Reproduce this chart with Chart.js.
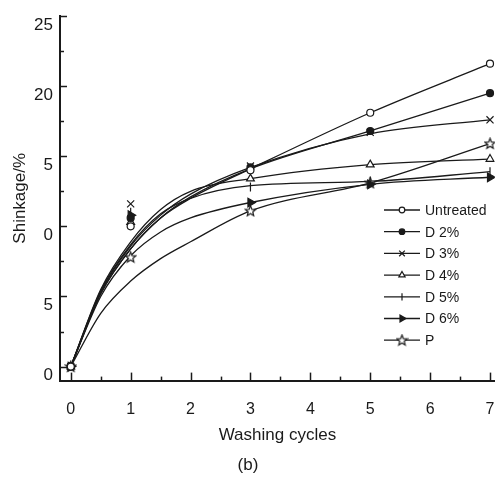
<!DOCTYPE html>
<html>
<head>
<meta charset="utf-8">
<script src="https://cdn.jsdelivr.net/npm/chart.js@4.4.0/dist/chart.umd.min.js"></script>
<style>
  html, body { margin: 0; padding: 0; background: #fff; }
</style>
</head>
<body>
<canvas id="shrinkChart" width="502" height="478"></canvas>
<script>
// measured points
const seriesNames = ['Untreated', 'D 2%', 'D 3%', 'D 4%', 'D 5%', 'D 6%', 'P'];
const markerX = [0, 1, 3, 5, 7];
const untreatedPts = [0, 10.0, 14.0, 18.1, 21.6];
const d2Pts = [0, 10.6, 14.2, 16.8, 19.5];
const d3Pts = [0, 11.6, 14.3, 16.7, 17.6];
const d4Pts = [0, 10.3, 13.4, 14.4, 14.8];
const d5Pts = [0, 11.0, 12.8, 13.2, 13.9];
const d6Pts = [0, 10.8, 11.7, 13.0, 13.5];
const pPts = [0, 7.8, 11.1, 13.1, 15.9];

// fitted curves
const curveX = [0, 0.5, 1, 1.5, 2, 3, 5, 7];
const untreatedCurve = [0, 5.2, 8.4, 10.6, 12.0, 14.1, 18.1, 21.6];
const d2Curve = [0, 5.2, 8.4, 10.6, 12.1, 14.1, 16.8, 19.5];
const d3Curve = [0, 5.3, 8.6, 10.8, 12.3, 14.2, 16.6, 17.6];
const d4Curve = [0, 5.5, 8.9, 11.2, 12.5, 13.4, 14.4, 14.8];
const d5Curve = [0, 5.4, 8.7, 10.9, 12.0, 12.9, 13.2, 13.9];
const d6Curve = [0, 5.0, 7.9, 9.6, 10.6, 11.7, 13.0, 13.5];
const pCurve = [0, 3.8, 6.1, 7.7, 8.9, 11.1, 13.1, 15.9];

const xTicks = [0, 1, 2, 3, 4, 5, 6, 7];
const yTicks = [0, 5, 10, 15, 20, 25];
const yTickLabels = ['0', '5', '0', '5', '20', '25'];

const INK = '#1a1a1a';
const FONT = "'Liberation Sans', Arial, Helvetica, sans-serif";

function makeStar() {
  const c = document.createElement('canvas');
  c.width = 13; c.height = 13;
  const g = c.getContext('2d');
  g.beginPath();
  for (let i = 0; i < 10; i++) {
    const r = i % 2 === 0 ? 5.5 : 2.4;
    const a = -Math.PI / 2 + i * Math.PI / 5;
    const px = 6.5 + r * Math.cos(a), py = 6.8 + r * Math.sin(a);
    if (i === 0) g.moveTo(px, py); else g.lineTo(px, py);
  }
  g.closePath();
  g.fillStyle = '#fff';
  g.fill();
  g.lineWidth = 1.2;
  g.strokeStyle = INK;
  g.stroke();
  return c;
}

const markerStyles = [
  { pointStyle: 'circle', radius: 3.5, bg: '#fff', rotation: 0 },
  { pointStyle: 'circle', radius: 3.5, bg: INK, rotation: 0 },
  { pointStyle: 'crossRot', radius: 5, bg: INK, rotation: 0 },
  { pointStyle: 'triangle', radius: 4.5, bg: '#fff', rotation: 0 },
  { pointStyle: 'line', radius: 4.5, bg: INK, rotation: 90 },
  { pointStyle: 'triangle', radius: 5, bg: INK, rotation: 90 },
  { pointStyle: makeStar(), radius: 6, bg: '#fff', rotation: 0 }
];

const allPts = [untreatedPts, d2Pts, d3Pts, d4Pts, d5Pts, d6Pts, pPts];
const allCurves = [untreatedCurve, d2Curve, d3Curve, d4Curve, d5Curve, d6Curve, pCurve];

const datasets = [];
seriesNames.forEach((name, i) => {
  const m = markerStyles[i];
  datasets.push({
    label: name,
    isMarker: true,
    data: markerX.map((x, k) => ({ x: x, y: allPts[i][k] })),
    showLine: false,
    pointStyle: m.pointStyle,
    pointRadius: m.radius,
    pointRotation: m.rotation,
    pointBackgroundColor: m.bg,
    pointBorderColor: INK,
    pointBorderWidth: 1.2,
    order: 0
  });
  datasets.push({
    label: name + ' fit',
    data: curveX.map((x, k) => ({ x: x, y: allCurves[i][k] })),
    borderColor: INK,
    borderWidth: 1.3,
    pointRadius: 0,
    cubicInterpolationMode: 'monotone',
    fill: false,
    order: 1
  });
});

// inward ticks, major and minor
const inwardTicks = {
  id: 'inwardTicks',
  afterDraw(chart) {
    const ctx = chart.ctx;
    const xs = chart.scales.x, ys = chart.scales.y;
    const axisY = chart.chartArea.bottom, axisX = chart.chartArea.left;
    ctx.save();
    ctx.strokeStyle = INK;
    ctx.lineWidth = 1.5;
    for (let v = 0; v <= 7; v += 0.5) {
      const px = Math.round(xs.getPixelForValue(v)) + 0.5;
      const len = Number.isInteger(v) ? 8 : 4;
      ctx.beginPath(); ctx.moveTo(px, axisY); ctx.lineTo(px, axisY - len); ctx.stroke();
    }
    for (let v = 0; v <= 25; v += 2.5) {
      const py = Math.round(ys.getPixelForValue(v)) + 0.5;
      const len = v % 5 === 0 ? 7 : 4;
      ctx.beginPath(); ctx.moveTo(axisX, py); ctx.lineTo(axisX + len, py); ctx.stroke();
    }
    ctx.restore();
  }
};

// legend inside the plot, bottom right
const inlineLegend = {
  id: 'inlineLegend',
  afterDraw(chart) {
    const ctx = chart.ctx;
    const area = chart.chartArea;
    const x0 = area.left + 324, y0 = area.top + 194, rowH = 21.7;
    ctx.save();
    ctx.font = '14px ' + FONT;
    ctx.textBaseline = 'middle';
    let row = 0;
    chart.data.datasets.forEach(ds => {
      if (!ds.isMarker) return;
      const y = y0 + row * rowH;
      ctx.strokeStyle = INK;
      ctx.lineWidth = 1.3;
      ctx.beginPath(); ctx.moveTo(x0, y); ctx.lineTo(x0 + 36, y); ctx.stroke();
      ctx.fillStyle = ds.pointBackgroundColor;
      ctx.lineWidth = 1.2;
      const opts = { pointStyle: ds.pointStyle, rotation: ds.pointRotation, radius: ds.pointRadius * 0.8, borderWidth: 1.2 };
      Chart.helpers.drawPoint(ctx, opts, x0 + 18, y);
      ctx.fillStyle = INK;
      ctx.fillText(ds.label, x0 + 41, y + 1);
      row++;
    });
    ctx.restore();
  }
};

new Chart(document.getElementById('shrinkChart'), {
  type: 'line',
  data: { datasets: datasets },
  plugins: [inwardTicks, inlineLegend],
  options: {
    responsive: false,
    animation: false,
    events: [],
    layout: { padding: { top: 16, right: 6, left: 0, bottom: 2 } },
    plugins: {
      legend: { display: false },
      tooltip: { enabled: false },
      title: {
        display: true,
        position: 'bottom',
        text: '(b)',
        color: INK,
        font: { family: FONT, size: 17, weight: 'normal' },
        padding: { top: 0, bottom: 0 }
      }
    },
    scales: {
      x: {
        type: 'linear',
        min: -0.18,
        max: 7.08,
        afterBuildTicks: s => { s.ticks = xTicks.map(v => ({ value: v })); },
        afterFit: s => { s.height = 75; s.paddingLeft = 0; s.paddingRight = 0; },
        grid: { display: false, drawTicks: false },
        border: { display: true, color: INK, width: 2 },
        ticks: { color: INK, padding: 19, maxRotation: 0, autoSkip: false, font: { family: FONT, size: 16 } },
        title: { display: true, text: 'Washing cycles', color: INK, font: { family: FONT, size: 17 }, padding: { top: 0, bottom: 10 } }
      },
      y: {
        type: 'linear',
        min: -1,
        max: 25,
        afterBuildTicks: s => { s.ticks = yTicks.map(v => ({ value: v })); },
        afterFit: s => { s.width = 60; s.paddingTop = 0; s.paddingBottom = 0; },
        grid: { display: false, drawTicks: false },
        border: { display: true, color: INK, width: 2 },
        ticks: {
          color: INK, padding: 7, labelOffset: 9, autoSkip: false,
          font: { family: FONT, size: 17 },
          callback: v => yTickLabels[yTicks.indexOf(v)]
        },
        title: { display: true, text: 'Shinkage/%', color: INK, font: { family: FONT, size: 17 }, padding: { top: 10, bottom: 0 } }
      }
    }
  }
});
</script>
</body>
</html>
